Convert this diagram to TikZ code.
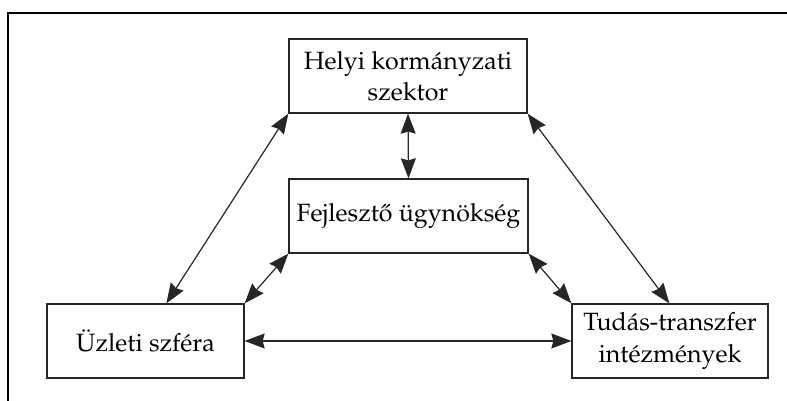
\documentclass[tikz,border=0pt]{standalone}
\usepackage[T1]{fontenc}
\usepackage{mathpazo}
\usetikzlibrary{arrows.meta,calc}
\begin{document}
\begin{tikzpicture}[x=1pt,y=-1pt,
  box/.style={draw=black!85,line width=1.3pt,rectangle,inner sep=0pt,align=center,
    font=\fontsize{25}{31.5}\selectfont},
  tip/.tip={Stealth[length=20pt,width=15pt,inset=2pt]},
  link/.style={line width=1.2pt,draw=black!85,{tip}-{tip}},
  frameline/.style={line width=2.3pt,line cap=rect}]
  \useasboundingbox (0,0) rectangle (787,401);
  % open frame: top and left edges
  \coordinate (fl) at (8,401);
  \coordinate (fc) at (8,13);
  \coordinate (fr) at (787,13);
  \draw[frameline] (fl) -- (fc) -- (fr);
  % the four actors
  \node[box,minimum width=238pt,minimum height=74pt] (helyi) at (408,76)
    {Helyi korm\'anyzati\\szektor};
  \node[box,minimum width=239pt,minimum height=74pt] (fejl) at (408.5,216)
    {Fejleszt\H{o} \"ugyn\"oks\'eg};
  \node[box,minimum width=197pt,minimum height=74pt] (uzleti) at (145.5,341)
    {\"Uzleti szf\'era};
  \node[box,minimum width=196pt,minimum height=74pt] (tudas) at (670,341)
    {Tud\'as-transzfer\\int\'ezm\'enyek};
  % attachment points on the lower boxes
  \coordinate (uz-top) at ($(uzleti.north west)+(120,0)$);
  \coordinate (tu-top) at ($(tudas.north west)+(98,0)$);
  % mutual links
  \draw[link] (uz-top) -- (helyi.south west);
  \draw[link] (tu-top) -- (helyi.south east);
  \draw[link] (helyi.south) -- (fejl.north);
  \draw[link] (uzleti.north east) -- (fejl.south west);
  \draw[link] (tudas.north west) -- (fejl.south east);
  \draw[link] (uzleti.east) -- (tudas.west);
\end{tikzpicture}
\end{document}
